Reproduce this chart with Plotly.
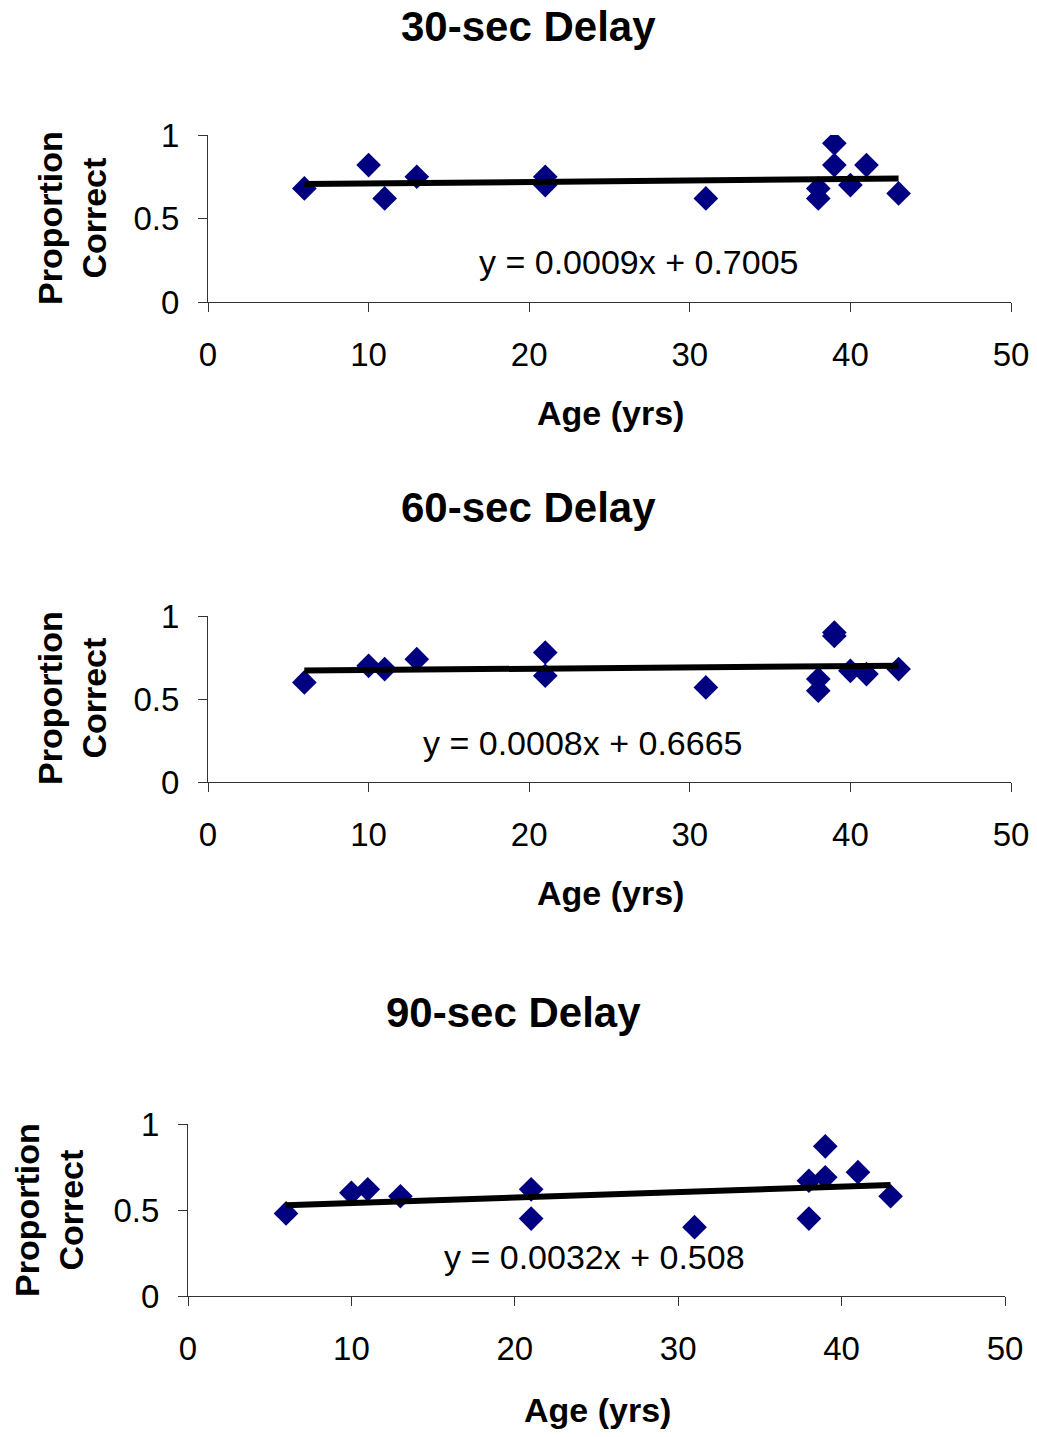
import plotly.graph_objects as go

W, H = 1037, 1437

# ---- data ----
titles = ["30-sec Delay", "60-sec Delay", "90-sec Delay"]

age_30 = [6, 10, 11, 13, 21, 21, 31, 38, 38, 39, 39, 40, 41, 43]
prop_30 = [0.68, 0.82, 0.62, 0.75, 0.75, 0.70, 0.62, 0.68, 0.62, 0.95, 0.82, 0.70, 0.82, 0.65]

age_60 = [6, 10, 11, 13, 21, 21, 31, 38, 38, 39, 39, 40, 41, 43]
prop_60 = [0.60, 0.70, 0.68, 0.74, 0.78, 0.64, 0.57, 0.62, 0.55, 0.88, 0.90, 0.67, 0.65, 0.68]

age_90 = [6, 10, 11, 13, 21, 21, 31, 38, 38, 39, 39, 41, 43]
prop_90 = [0.48, 0.60, 0.62, 0.58, 0.62, 0.45, 0.40, 0.67, 0.45, 0.87, 0.69, 0.72, 0.58]

slopes = [0.0009, 0.0008, 0.0032]
intercepts = [0.7005, 0.6665, 0.508]
equations = ["y = 0.0009x + 0.7005", "y = 0.0008x + 0.6665", "y = 0.0032x + 0.508"]

x_ticks = [0, 10, 20, 30, 40, 50]
y_ticks = [0, 0.5, 1]

ages = [age_30, age_60, age_90]
props = [prop_30, prop_60, prop_90]

# ---- layout geometry (pixels) ----
plot_boxes = [  # left, right, top, bottom
    (208, 1011, 135, 302),
    (208, 1011, 616, 782),
    (188, 1005, 1124, 1296),
]
title_pos = [(528, 27), (528, 507), (513, 1013)]
eq_pos = [(638, 262), (582, 743), (594, 1257)]
xtitle_pos = [(610, 413), (610, 893), (597, 1410)]
ytitle_pos = [(72, 218), (72, 698), (49, 1210)]


def px(x):
    return x / W


def py(y):
    return 1 - y / H


FONT = "Liberation Sans, Arial, sans-serif"
fig = go.Figure()
annotations = []
axis_line = "#333333"

for i in range(3):
    xa = "x" if i == 0 else f"x{i+1}"
    ya = "y" if i == 0 else f"y{i+1}"
    fig.add_trace(go.Scatter(
        x=ages[i], y=props[i], mode="markers",
        marker=dict(symbol="diamond", size=19, color="#000080",
                    line=dict(width=0)),
        xaxis=xa, yaxis=ya, showlegend=False, hoverinfo="x+y",
    ))
    x0, x1 = min(ages[i]), max(ages[i])
    fig.add_trace(go.Scatter(
        x=[x0, x1], y=[slopes[i] * x0 + intercepts[i], slopes[i] * x1 + intercepts[i]],
        mode="lines", line=dict(color="black", width=6),
        xaxis=xa, yaxis=ya, showlegend=False, hoverinfo="skip",
    ))
    l, r, t, b = plot_boxes[i]
    xkey = "xaxis" if i == 0 else f"xaxis{i+1}"
    ykey = "yaxis" if i == 0 else f"yaxis{i+1}"
    fig.update_layout({
        xkey: dict(
            domain=[px(l), px(r)], anchor=ya, range=[0, 50],
            tickmode="array", tickvals=x_ticks, ticktext=[str(v) for v in x_ticks],
            showgrid=False, zeroline=False, showline=True,
            linecolor=axis_line, linewidth=1,
            ticks="outside", ticklen=9, tickwidth=1, tickcolor=axis_line,
            ticklabelstandoff=14, automargin=False,
            tickfont=dict(family=FONT, size=33, color="black"),
            fixedrange=True,
        ),
        ykey: dict(
            domain=[py(b), py(t)], anchor=xa, range=[0, 1],
            tickmode="array", tickvals=y_ticks, ticktext=["0", "0.5", "1"],
            showgrid=False, zeroline=False, showline=True,
            linecolor=axis_line, linewidth=1,
            ticks="outside", ticklen=9, tickwidth=1, tickcolor=axis_line,
            ticklabelstandoff=12, automargin=False,
            tickfont=dict(family=FONT, size=33, color="black"),
            fixedrange=True,
        ),
    })
    tx, ty = title_pos[i]
    annotations.append(dict(
        x=px(tx), y=py(ty), xref="paper", yref="paper", xanchor="center", yanchor="middle",
        text=f"<b>{titles[i]}</b>", showarrow=False,
        font=dict(family=FONT, size=42, color="black"),
    ))
    ex, ey = eq_pos[i]
    annotations.append(dict(
        x=px(ex), y=py(ey), xref="paper", yref="paper", xanchor="center", yanchor="middle",
        text=equations[i], showarrow=False,
        font=dict(family=FONT, size=34, color="black"),
    ))
    axx, axy = xtitle_pos[i]
    annotations.append(dict(
        x=px(axx), y=py(axy), xref="paper", yref="paper", xanchor="center", yanchor="middle",
        text="<b>Age (yrs)</b>", showarrow=False,
        font=dict(family=FONT, size=34, color="black"),
    ))
    yx, yy = ytitle_pos[i]
    annotations.append(dict(
        x=px(yx), y=py(yy), xref="paper", yref="paper", xanchor="center", yanchor="middle",
        text="<b>Proportion</b><br><b>Correct</b>", showarrow=False, textangle=-90,
        font=dict(family=FONT, size=34, color="black"),
    ))

fig.update_layout(
    width=W, height=H,
    margin=dict(l=0, r=0, t=0, b=0, pad=0, autoexpand=False),
    paper_bgcolor="white", plot_bgcolor="white",
    annotations=annotations,
    showlegend=False,
)

fig.write_html("out.html")
